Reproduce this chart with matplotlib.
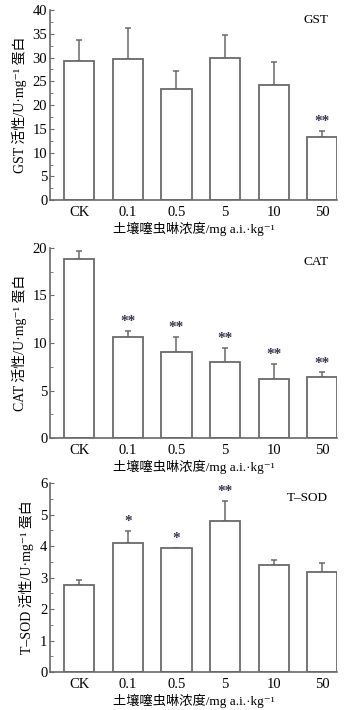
import matplotlib
matplotlib.use('Agg')
import matplotlib.pyplot as plt
import matplotlib.ticker as mticker
import numpy as np

plt.rcParams['font.family'] = ['Liberation Serif', 'Noto Sans CJK SC', 'DejaVu Sans']

doses = ['CK', '0.1', '0.5', '5', '10', '50']

gst_mean = [29.3, 29.7, 23.3, 30.0, 24.3, 13.2]
gst_err = [4.3, 6.5, 3.9, 4.7, 4.7, 1.4]
gst_sig = ['', '', '', '', '', '**']

cat_mean = [18.8, 10.6, 9.0, 8.0, 6.2, 6.4]
cat_err = [0.9, 0.7, 1.6, 1.5, 1.6, 0.5]
cat_sig = ['', '**', '**', '**', '**', '**']

sod_mean = [2.75, 4.1, 3.93, 4.8, 3.4, 3.18]
sod_err = [0.17, 0.38, 0.02, 0.63, 0.16, 0.28]
sod_sig = ['', '*', '*', '**', '', '']

xlabel = '土壤噻虫啉浓度/mg a.i.·kg⁻¹'

panels = [
    ('GST', 'GST 活性/U·mg⁻¹ 蛋白', gst_mean, gst_err, gst_sig, 40, 5, 2.5,
     [0.141, 0.718, 0.808, 0.268], 0.947),
    ('CAT', 'CAT 活性/U·mg⁻¹ 蛋白', cat_mean, cat_err, cat_sig, 20, 5, 2.5,
     [0.141, 0.383, 0.808, 0.268], 0.926),
    ('T–SOD', 'T–SOD 活性/U·mg⁻¹ 蛋白', sod_mean, sod_err, sod_sig, 6, 1, 0.5,
     [0.141, 0.0535, 0.808, 0.266], 0.92),
]

edge = '#6a6a6a'
fig = plt.figure(figsize=(3.55, 7.1), dpi=100)

for name, ylab, mean, err, sig, ymax, major, minor, pos, ty in panels:
    ax = fig.add_axes(pos)
    x = np.arange(len(doses))
    ax.bar(x, mean, width=0.62, color='white', edgecolor=edge, linewidth=1.3, zorder=2)
    ax.errorbar(x, mean, yerr=[np.zeros(len(err)), err], fmt='none', ecolor=edge,
                elinewidth=1.1, capsize=2.2, capthick=1.1, zorder=1)
    for xi, m, e, s in zip(x, mean, err, sig):
        if s:
            ax.annotate(s, (xi, m + e), xytext=(0, 2), textcoords='offset points',
                        ha='center', va='bottom', fontsize=11, color='#3a3550',
                        fontweight='bold')
    ax.set_xlim(-0.6, 5.3)
    ax.set_ylim(0, ymax)
    ax.set_xticks(x)
    ax.set_xticklabels(doses)
    ax.yaxis.set_major_locator(mticker.MultipleLocator(major))
    ax.yaxis.set_minor_locator(mticker.MultipleLocator(minor))
    ax.tick_params(axis='y', which='both', direction='in', labelsize=10.5, color=edge, pad=2)
    ax.tick_params(axis='y', which='major', length=3)
    ax.tick_params(axis='y', which='minor', length=2)
    ax.tick_params(axis='x', length=0, labelsize=10.5, pad=4)
    for sp in ['top', 'right']:
        ax.spines[sp].set_visible(False)
    for sp in ['left', 'bottom']:
        ax.spines[sp].set_color(edge)
        ax.spines[sp].set_linewidth(1.2)
    ax.set_xlabel(xlabel, fontsize=9.5, labelpad=2)
    ax.set_ylabel(ylab, fontsize=10, labelpad=4)
    ax.text(0.97, ty, name, transform=ax.transAxes, ha='right', va='center', fontsize=9.5)

fig.savefig('out.png', dpi=100)
